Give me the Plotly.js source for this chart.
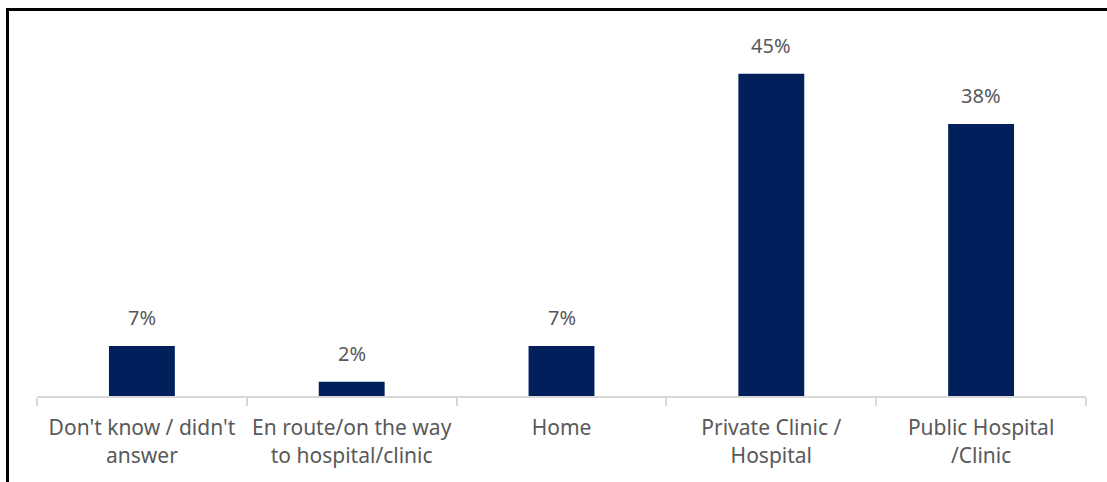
<!DOCTYPE html>
<html>
<head>
<meta charset="utf-8">
<script src="https://cdn.plot.ly/plotly-3.0.1.min.js"></script>
<style>
html,body{margin:0;padding:0;background:#fff;}
#wrap{position:relative;width:1107px;height:482px;overflow:hidden;}
#frame{position:absolute;left:6px;top:8px;width:1101px;height:474px;border-top:3px solid #000;border-left:3px solid #000;box-sizing:border-box;pointer-events:none;z-index:5;}
#chart{position:absolute;left:0;top:0;width:1107px;height:482px;}
</style>
</head>
<body>
<div id="wrap">
<div id="chart"></div>
<div id="frame"></div>
</div>
<script>
const categories = ["Don't know / didn't<br>answer", "En route/on the way<br>to hospital/clinic", "Home", "Private Clinic /<br>Hospital", "Public Hospital<br>/Clinic"];
const values = [7, 2, 7, 45, 38];
const valueLabels = ["7%", "2%", "7%", "45%", "38%"];

const trace = {
  type: 'bar',
  x: categories,
  y: values,
  marker: {color: '#001f5b'},
  hoverinfo: 'none'
};

const annotations = categories.map((c, i) => ({
  x: c, y: values[i], xref: 'x', yref: 'y',
  text: valueLabels[i], showarrow: false,
  yanchor: 'bottom', yshift: 13,
  font: {family: 'Noto Sans, sans-serif', size: 20, color: '#595959'}
}));

const layout = {
  width: 1107, height: 482,
  margin: {l: 37, r: 21, t: 38, b: 86},
  paper_bgcolor: '#fff', plot_bgcolor: '#fff',
  bargap: 0.686,
  showlegend: false,
  xaxis: {
    type: 'category',
    showline: true, linecolor: '#d9d9d9', linewidth: 2,
    ticks: 'outside', tickson: 'boundaries', ticklen: 8, tickcolor: '#d9d9d9', tickwidth: 2,
    ticklabelstandoff: 12,
    tickfont: {family: 'Noto Sans, sans-serif', size: 21, color: '#595959'},
    showgrid: false, zeroline: false, fixedrange: true
  },
  yaxis: {
    range: [0, 50], visible: false, showgrid: false, zeroline: false, fixedrange: true
  },
  annotations: annotations
};

Plotly.newPlot('chart', [trace], layout, {displayModeBar: false, staticPlot: true});
</script>
</body>
</html>
